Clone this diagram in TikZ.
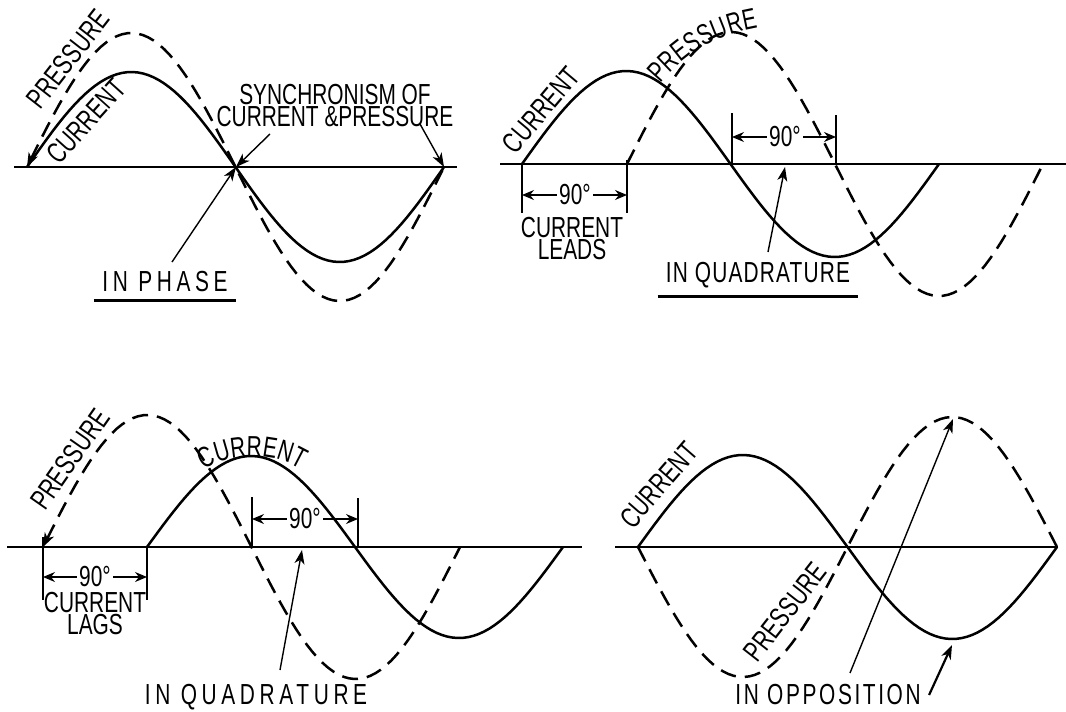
\documentclass[tikz,border=0pt]{standalone}
\usepackage{fontspec}
\setmainfont[FakeStretch=0.72]{Liberation Sans}
\newfontfamily\widefont[FakeStretch=0.72,LetterSpace=16]{Liberation Sans}
\newfontfamily\midfont[FakeStretch=0.72,LetterSpace=9]{Liberation Sans}
\newfontfamily\snugfont[FakeStretch=0.72,LetterSpace=4]{Liberation Sans}
\newcommand\lblsize{\fontsize{14.5}{11}\selectfont}
\usetikzlibrary{arrows.meta, positioning, calc, decorations.text}

\begin{document}
\begin{tikzpicture}[x=0.5pt, y=-0.5pt,
    curve/.style={line width=1.25pt, line join=round},
    press/.style={curve, dash pattern=on 8pt off 4.5pt},
    axis/.style={line width=0.6pt},
    tick/.style={line width=0.7pt},
    ptr/.style={line width=0.7pt, -{Stealth[length=7pt, width=5pt, inset=2pt]}},
    dim/.style={line width=0.6pt, -{Stealth[length=6pt, width=5pt, inset=2pt]}},
    lbl/.style={font=\lblsize, inner sep=1pt},
    title/.style={lbl, inner sep=4pt},
    uline/.style={line width=1.3pt}]
    \useasboundingbox (0,0) rectangle (1066,712);

    % ---------------- IN PHASE (top left) ----------------
    \draw[axis] (14,167) -- (457,167);
    \coordinate (z1a) at (236,167);
    \coordinate (z1b) at (444,167);
    \draw[curve] plot[domain=27:444, samples=80] (\x, {167-95*sin((\x-27)/208.5*180)});
    \draw[press, {Stealth[length=7pt, width=5pt, inset=2pt]}-] plot[domain=27:444, samples=80] (\x, {167-134*sin((\x-27)/208.5*180)});
    \node[lbl, rotate=52] (p1) at (68,59) {PRESSURE};
    \node[lbl, rotate=48] (c1) at (86,121) {CURRENT};
    \node[lbl, align=center] (sync) at (335,106) {SYNCHRONISM OF\\CURRENT \&PRESSURE};
    \coordinate (s1) at (270,134);
    \coordinate (s2) at (420,124);
    \draw[ptr] (s1) -- (z1a);
    \draw[ptr] (s2) -- (z1b);
    \node[title] (ph) at (165,282) {\widefont IN PHASE};
    \draw[uline] (ph.south west) -- (ph.south east);
    \coordinate (ph1) at (172,262);
    \draw[ptr] (ph1) -- (z1a);

    % ---------------- IN QUADRATURE, current leads (top right) ----------------
    \draw[axis] (500,164) -- (1066,164);
    \draw[curve] plot[domain=522:939, samples=80] (\x, {164-93*sin((\x-522)/208.5*180)});
    \draw[press] plot[domain=627:1043, samples=80] (\x, {164-132*sin((\x-627)/208*180)});
    \node[lbl, rotate=50] (c2) at (541,110) {CURRENT};
    % pressure label bends over the peak
    \path[decorate, decoration={text along path, text align=center,
        text={|\lblsize|PRESSURE}}] (662,82) .. controls (684,56) and (712,36) .. (756,28);
    % 90 degree brackets
    \coordinate (t2a) at (522,164);
    \coordinate (t2b) at (627,164);
    \draw[tick] (t2a) -- ++(0,49);
    \draw[tick] ($(t2b)+(0,-4)$) -- ++(0,53);
    \node[lbl] (d2a) at (575,195) {90°};
    \draw[dim] (d2a.west) -- (d2a.west -| t2a);
    \draw[dim] (d2a.east) -- (d2a.east -| t2b);
    \node[lbl, align=center] (lead) at (572,239) {CURRENT\\LEADS};
    \coordinate (t2c) at (732,164);
    \coordinate (t2d) at (836,164);
    \draw[tick] (t2c) -- ++(0,-51);
    \draw[tick] (t2d) -- ++(0,-49);
    \node[lbl] (d2b) at (785,137) {90°};
    \draw[dim] (d2b.west) -- (d2b.west -| t2c);
    \draw[dim] (d2b.east) -- (d2b.east -| t2d);
    \node[title] (q1) at (758,275) {\snugfont IN QUADRATURE};
    \draw[uline] (q1.south west) -- (q1.south east);
    \coordinate (q1a) at (768,252);
    \coordinate (q1b) at (785,167);
    \draw[ptr] (q1a) -- (q1b);

    % ---------------- IN QUADRATURE, current lags (bottom left) ----------------
    \draw[axis] (7,547) -- (582,547);
    \draw[press, {Stealth[length=7pt, width=5pt, inset=2pt]}-] plot[domain=43:460, samples=80] (\x, {547-132*sin((\x-43)/208.5*180)});
    \draw[curve] plot[domain=147:563, samples=80] (\x, {547-91*sin((\x-147)/208*180)});
    \node[lbl, rotate=55] (p3) at (70,459) {PRESSURE};
    % current label follows the arch
    \path[decorate, decoration={text along path, text align=center,
        text={|\lblsize|CURRENT}}] (203,470) .. controls (230,452) and (275,452) .. (302,470);
    \coordinate (t3a) at (43,547);
    \coordinate (t3b) at (147,547);
    \draw[tick] ($(t3a)+(0,-10)$) -- ++(0,63);
    \draw[tick] (t3b) -- ++(0,53);
    \node[lbl] (d3a) at (95,577) {90°};
    \draw[dim] (d3a.west) -- (d3a.west -| t3a);
    \draw[dim] (d3a.east) -- (d3a.east -| t3b);
    \node[lbl, align=center] (lag) at (95,614) {CURRENT\\LAGS};
    \coordinate (t3c) at (252,547);
    \coordinate (t3d) at (358,547);
    \draw[tick] (t3c) -- ++(0,-50);
    \draw[tick] (t3d) -- ++(0,-49);
    \node[lbl] (d3b) at (305,519) {90°};
    \draw[dim] (d3b.west) -- (d3b.west -| t3c);
    \draw[dim] (d3b.east) -- (d3b.east -| t3d);
    \node[title] (q2) at (256,697) {\widefont IN QUADRATURE};
    \draw[uline] (q2.south west) -- (q2.south east);
    \coordinate (q2a) at (280,670);
    \coordinate (q2b) at (302,550);
    \draw[ptr] (q2a) -- (q2b);

    % ---------------- IN OPPOSITION (bottom right) ----------------
    \draw[axis] (615,547) -- (1058,547);
    \draw[curve] plot[domain=638:1057, samples=80] (\x, {547-92*sin((\x-638)/209.5*180)});
    \draw[press] plot[domain=638:1057, samples=80] (\x, {547+130*sin((\x-638)/209.5*180)});
    \node[lbl, rotate=49] (c4) at (659,485) {CURRENT};
    \node[lbl, rotate=52] (p4) at (785,612) {PRESSURE};
    \node[title] (opp) at (828,695) {\midfont IN OPPOSITION};
    \draw[uline] (opp.south west) -- (opp.south east);
    \coordinate (o1) at (850,673);
    \coordinate (ptop) at (953,419);
    \coordinate (ctro) at (952,645);
    \draw[ptr] (o1) -- (ptop);
    \draw[ptr, line width=1.1pt] (opp.east) -- (ctro);
\end{tikzpicture}
\end{document}
